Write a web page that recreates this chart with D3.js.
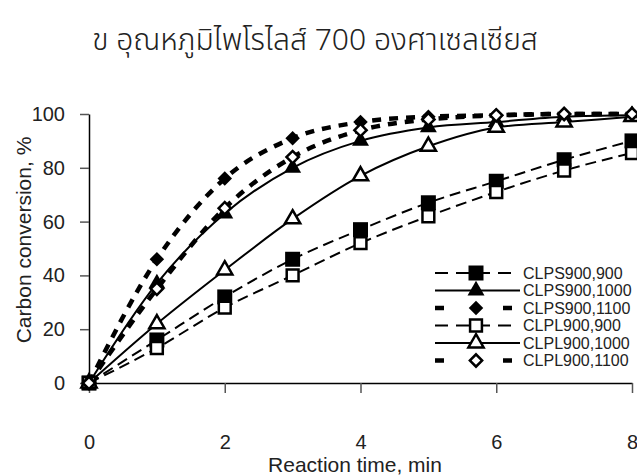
<!DOCTYPE html>
<html>
<head>
<meta charset="utf-8">
<script src="https://cdn.jsdelivr.net/npm/d3@7"></script>
<style>
  body { margin: 0; background: #fff; }
  svg text { font-family: "Liberation Sans", Arial, sans-serif; fill: #222; }
</style>
</head>
<body>
<div id="chart"></div>
<script>
// data
const times = [0, 1, 2, 3, 4, 5, 6, 7, 8];
const clps900_900  = [0, 16, 32, 46, 57, 67, 75, 83, 90];
const clps900_1000 = [0, 37, 63, 80, 90, 95, 97, 99, 99.5];
const clps900_1100 = [0, 46, 76, 91, 97, 99, 99.5, 100, 100];
const clpl900_900  = [0, 13, 28, 40, 52, 62, 71, 79, 85.5];
const clpl900_1000 = [0, 22, 42, 61, 77, 88, 95, 97, 99];
const clpl900_1100 = [0, 35, 65, 84, 94, 98, 99.5, 100, 100];
const seriesNames = ['CLPS900,900', 'CLPS900,1000', 'CLPS900,1100', 'CLPL900,900', 'CLPL900,1000', 'CLPL900,1100'];
const xTicks = [0, 2, 4, 6, 8];
const yTicks = [0, 20, 40, 60, 80, 100];

const width = 637;
const height = 476;
const margin = {"top": 114, "right": 5, "bottom": 93, "left": 89};
const graphWidth = 632 - margin.left;
const graphHeight = height - margin.top - margin.bottom;

const svg = d3.select('#chart')
    .append('svg')
    .attr('width', width)
    .attr('height', height);

// title (Thai)
svg.append('text')
    .text('ข อุณหภูมิไพโรไลส์ 700 องศาเซลเซียส')
    .attr('x', 315)
    .attr('y', 50)
    .attr('text-anchor', 'middle')
    .style('font-family', '"Noto Sans Thai", "Noto Sans", "DejaVu Sans", sans-serif')
    .style('font-weight', 300)
    .style('font-size', '30px');

const graph = svg.append('g')
    .attr('transform', `translate(${margin.left}, ${margin.top})`);

const xScale = d3.scaleLinear().domain([0, 8]).range([0, graphWidth]);
const yScale = d3.scaleLinear().domain([0, 100]).range([graphHeight, 0]);

// axes
const xAxis = d3.axisBottom(xScale).tickValues(xTicks).tickSize(10).tickPadding(42).tickSizeOuter(0);
const yAxis = d3.axisLeft(yScale).tickValues(yTicks).tickSize(9).tickPadding(15).tickSizeOuter(0);

const gx = graph.append('g')
    .attr('transform', `translate(0, ${graphHeight})`)
    .call(xAxis);
const gy = graph.append('g').call(yAxis);

[gx, gy].forEach(g => {
    g.select('.domain').attr('stroke', '#000').attr('stroke-width', 1.5);
    g.selectAll('.tick line').attr('stroke', '#555').attr('stroke-width', 1.5);
    g.selectAll('.tick text')
        .style('font-family', '"Liberation Sans", Arial, sans-serif')
        .style('font-size', '20px')
        .attr('fill', '#222');
});

svg.append('text')
    .text('Reaction time, min')
    .attr('x', 355)
    .attr('y', 472)
    .attr('text-anchor', 'middle')
    .style('font-size', '21px');

svg.append('text')
    .text('Carbon conversion, %')
    .attr('transform', 'translate(31, 240) rotate(-90)')
    .attr('text-anchor', 'middle')
    .style('font-size', '21px');

// series styles
const allValues = [clps900_900, clps900_1000, clps900_1100, clpl900_900, clpl900_1000, clpl900_1100];
const styles = [
    {shape: 'square',   filled: true,  dash: '11,6', lw: 2},
    {shape: 'triangle', filled: true,  dash: null,   lw: 2},
    {shape: 'diamond',  filled: true,  dash: '9,8',  lw: 4.5},
    {shape: 'square',   filled: false, dash: '11,6', lw: 2},
    {shape: 'triangle', filled: false, dash: null,   lw: 2},
    {shape: 'diamond',  filled: false, dash: '9,8',  lw: 4.5}
];

function symbolPath(shape, filled) {
    if (shape === 'square') return d3.symbol(d3.symbolSquare, filled ? 225 : 140)();
    if (shape === 'triangle') return d3.symbol(d3.symbolTriangle, filled ? 125 : 100)();
    return d3.symbol(d3.symbolSquare, filled ? 105 : 75)();
}

function drawMarker(g, st, x, y) {
    g.append('path')
        .attr('d', symbolPath(st.shape, st.filled))
        .attr('transform', `translate(${x}, ${y})` + (st.shape === 'diamond' ? ' rotate(45)' : ''))
        .attr('fill', st.filled ? '#000' : '#fff')
        .attr('stroke', '#000')
        .attr('stroke-width', st.filled ? 0 : 2.5);
}

const line = d3.line()
    .x((d, i) => xScale(times[i]))
    .y(d => yScale(d))
    .curve(d3.curveMonotoneX);

allValues.forEach((vals, k) => {
    graph.append('path')
        .datum(vals)
        .attr('d', line)
        .attr('fill', 'none')
        .attr('stroke', '#000')
        .attr('stroke-width', styles[k].lw)
        .attr('stroke-dasharray', styles[k].dash);
});

allValues.forEach((vals, k) => {
    const g = graph.append('g');
    vals.forEach((v, i) => drawMarker(g, styles[k], xScale(times[i]), yScale(v)));
});

// legend
const legend = svg.append('g');
seriesNames.forEach((name, k) => {
    const y = 273 + k * 17.5;
    const st = styles[k];
    legend.append('line')
        .attr('x1', 435).attr('x2', st.dash ? 512 : 520)
        .attr('y1', y).attr('y2', y)
        .attr('stroke', '#000')
        .attr('stroke-width', st.lw)
        .attr('stroke-dasharray', st.dash ? (st.lw > 3 ? '9,25,0,34,9' : '13,8') : null);
    drawMarker(legend, st, 476, y);
    legend.append('text')
        .text(name)
        .attr('x', 523)
        .attr('y', y)
        .attr('dy', '0.35em')
        .style('font-size', '16px');
});
</script>
</body>
</html>
